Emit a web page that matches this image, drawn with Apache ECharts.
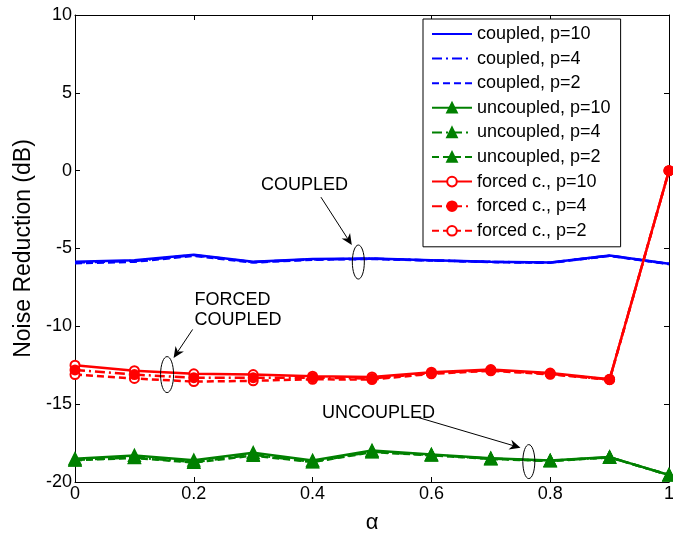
<!DOCTYPE html>
<html>
<head>
<meta charset="utf-8">
<script src="https://cdn.jsdelivr.net/npm/echarts@6/dist/echarts.min.js"></script>
<style>
  html, body { margin: 0; padding: 0; background: #fff; }
  #chart { width: 673px; height: 535px; }
</style>
</head>
<body>
<div id="chart"></div>
<script>
// alpha values (x axis)
var alpha = [0, 0.1, 0.2, 0.3, 0.4, 0.5, 0.6, 0.7, 0.8, 0.9, 1];

// noise reduction (dB)
var coupled10 = [-5.85, -5.75, -5.40, -5.85, -5.68, -5.65, -5.75, -5.85, -5.90, -5.45, -5.98];
var coupled4  = [-5.90, -5.80, -5.43, -5.87, -5.70, -5.66, -5.76, -5.86, -5.91, -5.46, -5.99];
var coupled2  = [-5.95, -5.85, -5.47, -5.90, -5.72, -5.67, -5.77, -5.87, -5.92, -5.47, -6.00];

var uncoupled10 = [-18.50, -18.30, -18.60, -18.12, -18.62, -17.98, -18.24, -18.48, -18.62, -18.40, -19.55];
var uncoupled4  = [-18.58, -18.42, -18.72, -18.25, -18.70, -18.05, -18.27, -18.50, -18.64, -18.41, -19.55];
var uncoupled2  = [-18.60, -18.45, -18.75, -18.30, -18.72, -18.08, -18.28, -18.52, -18.65, -18.42, -19.55];

var forced10 = [-12.50, -12.85, -13.05, -13.10, -13.20, -13.25, -12.95, -12.78, -13.00, -13.40, 0];
var forced4  = [-12.80, -13.10, -13.30, -13.30, -13.30, -13.35, -13.00, -12.82, -13.05, -13.42, 0];
var forced2  = [-13.10, -13.35, -13.55, -13.50, -13.40, -13.42, -13.05, -12.86, -13.08, -13.43, 0];

var yTicks = [-20, -15, -10, -5, 0, 5, 10];
var xTicks = [0, 0.2, 0.4, 0.6, 0.8, 1];

var FONT = '"Liberation Sans", Arial, Helvetica, sans-serif';
var BLUE = '#0000ff', GREEN = '#008000', RED = '#ff0000';
var DASHDOT = [10, 4, 2, 4];
var DASHED = [7, 4];

function pairs(ys) {
  return alpha.map(function (a, i) { return [a, ys[i]]; });
}

function mk(name, ys, color, dash, symbol, fill, z) {
  var s = {
    name: name,
    type: 'line',
    data: pairs(ys),
    z: z || 2,
    symbol: symbol || 'circle',
    symbolSize: symbol === 'triangle' ? 11 : 9,
    showSymbol: !!symbol,
    lineStyle: { color: color, width: 2.5, type: dash },
    itemStyle: { color: fill || color, borderColor: color, borderWidth: 2 },
    emphasis: { disabled: true },
    animation: false
  };
  if (!symbol) {
    // plain line: keep the legend icon free of markers
    s.itemStyle = { color: 'rgba(0,0,0,0)', borderColor: 'rgba(0,0,0,0)', borderWidth: 0 };
    s.symbolSize = 0;
  }
  return s;
}

var chart = echarts.init(document.getElementById('chart'));

var axisCommon = {
  type: 'value',
  axisLine: { show: true, onZero: false, lineStyle: { color: '#000', width: 1 } },
  axisTick: { show: true, inside: true, length: 5, lineStyle: { color: '#000' } },
  splitLine: { show: false }
};

var option = {
  backgroundColor: '#fff',
  animation: false,
  grid: { left: 75, right: 4, top: 15, bottom: 53, containLabel: false, outerBoundsMode: 'none' },
  legend: {
    orient: 'vertical',
    left: 423,
    top: 19,
    padding: [6, 10, 7, 8],
    itemWidth: 40,
    itemHeight: 12,
    itemGap: 6.6,
    backgroundColor: '#fff',
    borderColor: '#000',
    borderWidth: 1,
    borderRadius: 0,
    selectedMode: false,
    textStyle: { fontFamily: FONT, fontSize: 18, color: '#000', lineHeight: 18 }
  },
  xAxis: [
    Object.assign({}, axisCommon, {
      min: xTicks[0], max: xTicks[xTicks.length - 1], interval: 0.2,
      position: 'bottom',
      name: 'α', nameLocation: 'middle', nameGap: 30,
      nameTextStyle: { fontFamily: FONT, fontSize: 22, color: '#000' },
      axisLabel: { fontFamily: FONT, fontSize: 18, color: '#000', margin: 3 }
    }),
    Object.assign({}, axisCommon, {
      min: xTicks[0], max: xTicks[xTicks.length - 1], interval: 0.2,
      position: 'top', axisLabel: { show: false }
    })
  ],
  yAxis: [
    Object.assign({}, axisCommon, {
      min: yTicks[0], max: yTicks[yTicks.length - 1], interval: 5,
      position: 'left',
      name: 'Noise Reduction (dB)', nameLocation: 'middle', nameGap: 36,
      nameTextStyle: { fontFamily: FONT, fontSize: 23, color: '#000' },
      axisLabel: { fontFamily: FONT, fontSize: 18, color: '#000', margin: 3 }
    }),
    Object.assign({}, axisCommon, {
      min: yTicks[0], max: yTicks[yTicks.length - 1], interval: 5,
      position: 'right', axisLabel: { show: false }
    })
  ],
  series: [
    mk('coupled, p=10', coupled10, BLUE, 'solid'),
    mk('coupled, p=4', coupled4, BLUE, DASHDOT),
    mk('coupled, p=2', coupled2, BLUE, DASHED),
    mk('uncoupled, p=10', uncoupled10, GREEN, 'solid', 'triangle'),
    mk('uncoupled, p=4', uncoupled4, GREEN, DASHDOT, 'triangle'),
    mk('uncoupled, p=2', uncoupled2, GREEN, DASHED, 'triangle'),
    mk('forced c., p=10', forced10, RED, 'solid', 'circle', '#fff', 3),
    mk('forced c., p=4', forced4, RED, DASHDOT, 'circle', RED, 5),
    mk('forced c., p=2', forced2, RED, DASHED, 'circle', '#fff', 4)
  ]
};
chart.setOption(option);

// annotations, in data coordinates: [alpha, dB]
var labels = [
  { text: 'COUPLED', at: [0.313, -0.95] },
  { text: 'FORCED\nCOUPLED', at: [0.201, -8.95] },
  { text: 'UNCOUPLED', at: [0.416, -15.55] }
];
var rings = [
  { at: [0.477, -5.87], rx: 6, ry: 17 },
  { at: [0.155, -13.1], rx: 6.5, ry: 18 },
  { at: [0.764, -18.69], rx: 6, ry: 17 }
];
var arrows = [
  { from: [0.414, -1.7], to: [0.466, -4.78] },
  { from: [0.198, -10.2], to: [0.166, -12.03] },
  { from: [0.579, -15.87], to: [0.750, -17.8] }
];

function px(p) { return chart.convertToPixel({ gridIndex: 0 }, p); }

var g = [];
labels.forEach(function (l) {
  var p = px(l.at);
  g.push({
    type: 'text', x: p[0], y: p[1], z: 20,
    style: { text: l.text, fill: '#000', font: '18px ' + FONT, align: 'left', verticalAlign: 'middle', lineHeight: 20 }
  });
});
rings.forEach(function (r) {
  var p = px(r.at);
  g.push({
    type: 'ellipse', z: 20,
    shape: { cx: p[0], cy: p[1], rx: r.rx, ry: r.ry },
    style: { fill: null, stroke: '#000', lineWidth: 1 }
  });
});
arrows.forEach(function (a) {
  var p0 = px(a.from), p1 = px(a.to);
  var dx = p1[0] - p0[0], dy = p1[1] - p0[1];
  var L = Math.sqrt(dx * dx + dy * dy);
  var ux = dx / L, uy = dy / L;
  var hl = 11, hw = 5;
  var bx = p1[0] - ux * hl, by = p1[1] - uy * hl;
  var notch = [p1[0] - ux * hl * 0.7, p1[1] - uy * hl * 0.7];
  g.push({
    type: 'line', z: 20,
    shape: { x1: p0[0], y1: p0[1], x2: notch[0], y2: notch[1] },
    style: { stroke: '#000', lineWidth: 1 }
  });
  g.push({
    type: 'polygon', z: 20,
    shape: { points: [p1, [bx - uy * hw, by + ux * hw], notch, [bx + uy * hw, by - ux * hw]] },
    style: { fill: '#000' }
  });
});
chart.setOption({ graphic: g });
</script>
</body>
</html>
